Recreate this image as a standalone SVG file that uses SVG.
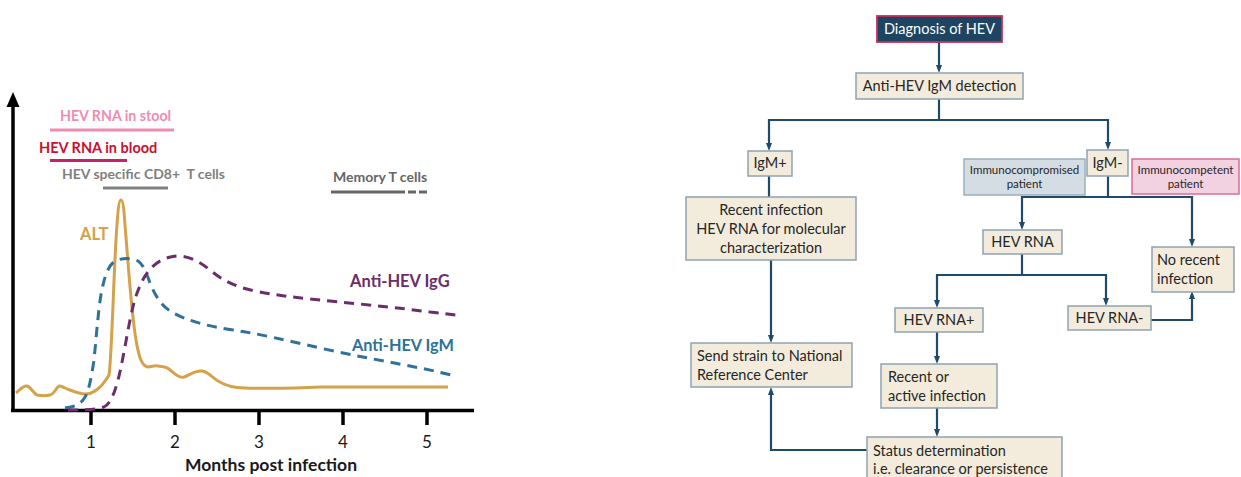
<svg xmlns="http://www.w3.org/2000/svg" width="1241" height="477" viewBox="0 0 1241 477">
<defs>
<style>
.box{fill:#f3ecdc;stroke:#8ea3b3;stroke-width:1.5}
.t{font-family:Lato,"Open Sans","Liberation Sans",sans-serif;font-size:14.5px;fill:#262626}
.tc{text-anchor:middle}
.s{font-size:11.5px}
.c{fill:none;stroke:#1f4a6a;stroke-width:2.2}
.lab{font-family:Lato,"Open Sans","Liberation Sans",sans-serif;font-weight:bold}
.crv{fill:none;stroke-width:3;stroke-linecap:butt;stroke-linejoin:round}
</style>
<marker id="ah" markerWidth="8" markerHeight="8" refX="4" refY="4" orient="auto" markerUnits="userSpaceOnUse">
<path d="M0,1 L8,4 L0,7 z" fill="#1f4a6a"/>
</marker>
</defs>
<rect width="1241" height="477" fill="#fff"/>

<!-- Chart -->
<g id="chart">
<path d="M13,410 L13,106" stroke="#000" stroke-width="3.5" fill="none"/>
<path d="M13,92 L19.5,107 L6.5,107 z" fill="#000"/>
<path d="M11,410.5 L474,410.5" stroke="#000" stroke-width="3.5"/>
<g stroke="#000" stroke-width="3.5">
<path d="M91,410 V425"/><path d="M175,410 V425"/><path d="M259,410 V425"/><path d="M343,410 V425"/><path d="M427,410 V425"/>
</g>
<g font-family="Lato,'Open Sans','Liberation Sans',sans-serif" font-size="17" fill="#1a1a1a" text-anchor="middle">
<text x="91" y="448">1</text><text x="175" y="448">2</text><text x="259" y="448">3</text><text x="343" y="448">4</text><text x="427" y="448">5</text>
</g>
<text class="lab" x="271" y="471" font-size="17.5" fill="#1a1a1a" text-anchor="middle">Months post infection</text>

<text class="lab" x="60" y="121" font-size="14.2" fill="#f08cb4">HEV RNA in stool</text>
<path d="M50,130 H174" stroke="#f08cb4" stroke-width="3"/>
<text class="lab" x="39" y="153" font-size="14.5" fill="#c8102e">HEV RNA in blood</text>
<path d="M50,160.5 H127" stroke="#c8206a" stroke-width="3"/>
<text class="lab" x="62" y="179" font-size="14" fill="#7f7f7f">HEV specific CD8+&#160; T cells</text>
<path d="M103,188 H168" stroke="#808080" stroke-width="3"/>
<text class="lab" x="333" y="182" font-size="14" fill="#666">Memory T cells</text>
<path d="M331,192 H397" stroke="#666" stroke-width="3"/>
<path d="M397,192 H429" stroke="#666" stroke-width="3" stroke-dasharray="8,3"/>

<text class="lab" x="80" y="240" font-size="16.5" fill="#d4a24a">ALT</text>
<text class="lab" x="350" y="287" font-size="16.5" fill="#6b2d6b">Anti-HEV IgG</text>
<text class="lab" x="352" y="351" font-size="16.3" fill="#2e7199">Anti-HEV IgM</text>

<path class="crv" stroke="#d4a24a" d="M16,393 C20,390 23,385 27,386 C31,387 33,393 37,395 C42,396 46,396 50,395 C55,394 57,385 60,386 C64,387 66,389 70,390 C75,392 80,394 86,394 C93,394 98,389 102,385 C105,381 107,379 109,375 C112,355 114,260 117,225 C118,210 119,200 121,200 C123,200 124,210 125,225 C128,260 131,310 136,340 C139,358 142,366 148,367 C152,367 154,365 158,366 C162,367 165,366 169,369 C175,374 179,378 184,377 C190,375 195,370 202,371 C209,372 212,378 218,381 C226,386 233,388 245,388 C270,389 290,388 320,387 C360,387 400,387 448,387"/>

<path class="crv" stroke="#2e7199" stroke-dasharray="10,7" d="M65,408 C72,407 78,406 83,400 C88,395 91,380 94,360 C97,330 99,300 103,285 C106,272 110,263 117,260 C124,258 132,258 138,261 C143,264 146,272 150,283 C155,295 160,304 170,311 C185,320 205,326 233,330 C260,334 285,340 320,348 C355,356 390,362 420,368 C435,371 447,374 456,376"/>

<path class="crv" stroke="#6b2d6b" stroke-dasharray="10,7" d="M68,410 C80,410 95,410 104,407 C110,404 114,395 118,380 C122,365 126,340 130,320 C134,300 138,288 145,276 C152,265 162,257 177,256 C190,256 200,262 210,270 C222,280 235,287 255,291 C280,296 300,298 330,301 C370,305 400,308 430,312 C440,313 448,314 456,315"/>
</g>

<!-- Connectors -->
<g id="connectors">
<path class="c" d="M939,42 V69" marker-end="url(#ah)"/>
<path class="c" d="M939,99 V120 M769,120 H1108"/>
<path class="c" d="M769,119 V147" marker-end="url(#ah)"/>
<path class="c" d="M1108,119 V146" marker-end="url(#ah)"/>
<path class="c" d="M769,176 V197"/>
<path class="c" d="M771,260 V339" marker-end="url(#ah)"/>
<path class="c" d="M1108,176 V197 M1022,197 H1193"/>
<path class="c" d="M1022,196 V226" marker-end="url(#ah)"/>
<path class="c" d="M1192,196 V243" marker-end="url(#ah)"/>
<path class="c" d="M1022,254 V275 M937,275 H1106"/>
<path class="c" d="M937,274 V304" marker-end="url(#ah)"/>
<path class="c" d="M1106,274 V302" marker-end="url(#ah)"/>
<path class="c" d="M1151,320 H1192 V295" marker-end="url(#ah)"/>
<path class="c" d="M937,332 V360" marker-end="url(#ah)"/>
<path class="c" d="M937,408 V433" marker-end="url(#ah)"/>
<path class="c" d="M867,450 H771 V391" marker-end="url(#ah)"/>
</g>

<!-- Nodes -->
<g id="n-diagnosis">
<rect x="877" y="16" width="125" height="26" fill="#1d4461" stroke="#c2305c" stroke-width="1.8"/>
<text class="t tc" x="939.5" y="34" style="fill:#fff">Diagnosis of HEV</text>
</g>
<g id="n-igm-detect">
<rect class="box" x="856" y="73" width="167" height="26"/>
<text class="t tc" x="939.5" y="91">Anti-HEV IgM detection</text>
</g>
<g id="n-igm-pos">
<rect class="box" x="748" y="151" width="44" height="25"/>
<text class="t tc" x="770" y="168">IgM+</text>
</g>
<g id="n-igm-neg">
<rect class="box" x="1087" y="150" width="41" height="26"/>
<text class="t tc" x="1107.5" y="168">IgM-</text>
</g>
<g id="n-immunocompromised">
<rect x="964" y="159" width="121" height="36" fill="#d5dde4" stroke="#9aafbf" stroke-width="1.5"/>
<text class="t tc s" x="1024.5" y="174">Immunocompromised</text>
<text class="t tc s" x="1024.5" y="188">patient</text>
</g>
<g id="n-immunocompetent">
<rect x="1132" y="159" width="107" height="35" fill="#f2d1e0" stroke="#d76c9c" stroke-width="1.5"/>
<text class="t tc s" x="1185.5" y="174">Immunocompetent</text>
<text class="t tc s" x="1185.5" y="188">patient</text>
</g>
<g id="n-recent">
<rect class="box" x="686" y="197" width="170" height="63"/>
<text class="t tc" x="771" y="215">Recent infection</text>
<text class="t tc" x="771" y="234">HEV RNA for molecular</text>
<text class="t tc" x="771" y="253">characterization</text>
</g>
<g id="n-hevrna">
<rect class="box" x="983" y="230" width="79" height="24"/>
<text class="t tc" x="1022.5" y="247">HEV RNA</text>
</g>
<g id="n-norecent">
<rect class="box" x="1152" y="247" width="82" height="45"/>
<text class="t" x="1157" y="265">No recent</text>
<text class="t" x="1157" y="284">infection</text>
</g>
<g id="n-hevrna-pos">
<rect class="box" x="895" y="308" width="88" height="24"/>
<text class="t tc" x="939" y="325">HEV RNA+</text>
</g>
<g id="n-hevrna-neg">
<rect class="box" x="1068" y="306" width="83" height="24"/>
<text class="t tc" x="1109.5" y="323">HEV RNA-</text>
</g>
<g id="n-send">
<rect class="box" x="691" y="343" width="161" height="44"/>
<text class="t" x="697" y="361">Send strain to National</text>
<text class="t" x="697" y="380">Reference Center</text>
</g>
<g id="n-active">
<rect class="box" x="881" y="364" width="116" height="44"/>
<text class="t" x="888" y="382">Recent or</text>
<text class="t" x="888" y="401">active infection</text>
</g>
<g id="n-status">
<rect class="box" x="867" y="437" width="195" height="45"/>
<text class="t" x="873" y="456">Status determination</text>
<text class="t" x="873" y="474">i.e. clearance or persistence</text>
</g>
</svg>
